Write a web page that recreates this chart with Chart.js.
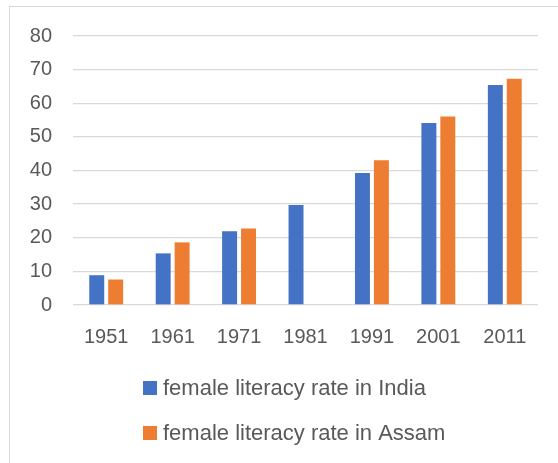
<!DOCTYPE html>
<html>
<head>
<meta charset="utf-8">
<script src="https://cdn.jsdelivr.net/npm/chart.js@4"></script>
<style>
  html, body { margin: 0; padding: 0; background: #fff; }
  #wrap { position: relative; width: 558px; height: 463px; overflow: hidden; }
  #frame { position: absolute; left: 9px; top: 6px; width: 700px; height: 600px; border: 1px solid #d9d9d9; }
  canvas { position: absolute; left: 0; top: 0; }
</style>
</head>
<body>
<div id="wrap">
  <div id="frame"></div>
  <canvas id="c" width="558" height="463"></canvas>
</div>
<script>
const years = ['1951', '1961', '1971', '1981', '1991', '2001', '2011'];
const indiaRates = [8.86, 15.35, 21.97, 29.76, 39.29, 54.16, 65.46];
const assamRates = [7.58, 18.62, 22.76, null, 43.03, 56.03, 67.27];
const seriesNames = ['female literacy rate in India', 'female literacy rate in Assam'];
const seriesColors = ['#4472C4', '#ED7D31'];
const yTicks = [0, 10, 20, 30, 40, 50, 60, 70, 80];

const FONT = 'Liberation Sans, Arial, sans-serif';
const TEXT = '#595959';

const legendPlugin = {
  id: 'stackedLegend',
  afterDraw(chart) {
    const ctx = chart.ctx;
    const rows = [388, 433];
    ctx.save();
    ctx.font = '22px ' + FONT;
    ctx.textBaseline = 'middle';
    ctx.textAlign = 'left';
    chart.data.datasets.forEach((ds, i) => {
      const y = rows[i];
      ctx.fillStyle = ds.backgroundColor;
      ctx.fillRect(143, y - 7, 14, 14);
      ctx.fillStyle = TEXT;
      ctx.fillText(ds.label, 163, y + 1);
    });
    ctx.restore();
  }
};

new Chart(document.getElementById('c'), {
  type: 'bar',
  data: {
    labels: years,
    datasets: [
      { label: seriesNames[0], data: indiaRates, backgroundColor: seriesColors[0] },
      { label: seriesNames[1], data: assamRates, backgroundColor: seriesColors[1] }
    ]
  },
  options: {
    responsive: false,
    animation: false,
    devicePixelRatio: 1,
    layout: { padding: { left: 10, right: 20, top: 36, bottom: 94 } },
    datasets: { bar: { barPercentage: 0.79, categoryPercentage: 0.57 } },
    plugins: { legend: { display: false }, tooltip: { enabled: false } },
    scales: {
      x: {
        grid: { display: false, drawTicks: false },
        border: { display: false },
        ticks: { color: TEXT, font: { family: FONT, size: 20 }, padding: 20, maxRotation: 0 }
      },
      y: {
        min: 0, max: 80,
        afterBuildTicks(s) { s.ticks = yTicks.map(v => ({ value: v })); },
        afterFit(s) { s.width = 63; },
        grid: { color: '#d9d9d9', lineWidth: 1.3, drawTicks: false },
        border: { display: false },
        ticks: { color: TEXT, font: { family: FONT, size: 20 }, padding: 21 }
      }
    }
  },
  plugins: [legendPlugin]
});
</script>
</body>
</html>
